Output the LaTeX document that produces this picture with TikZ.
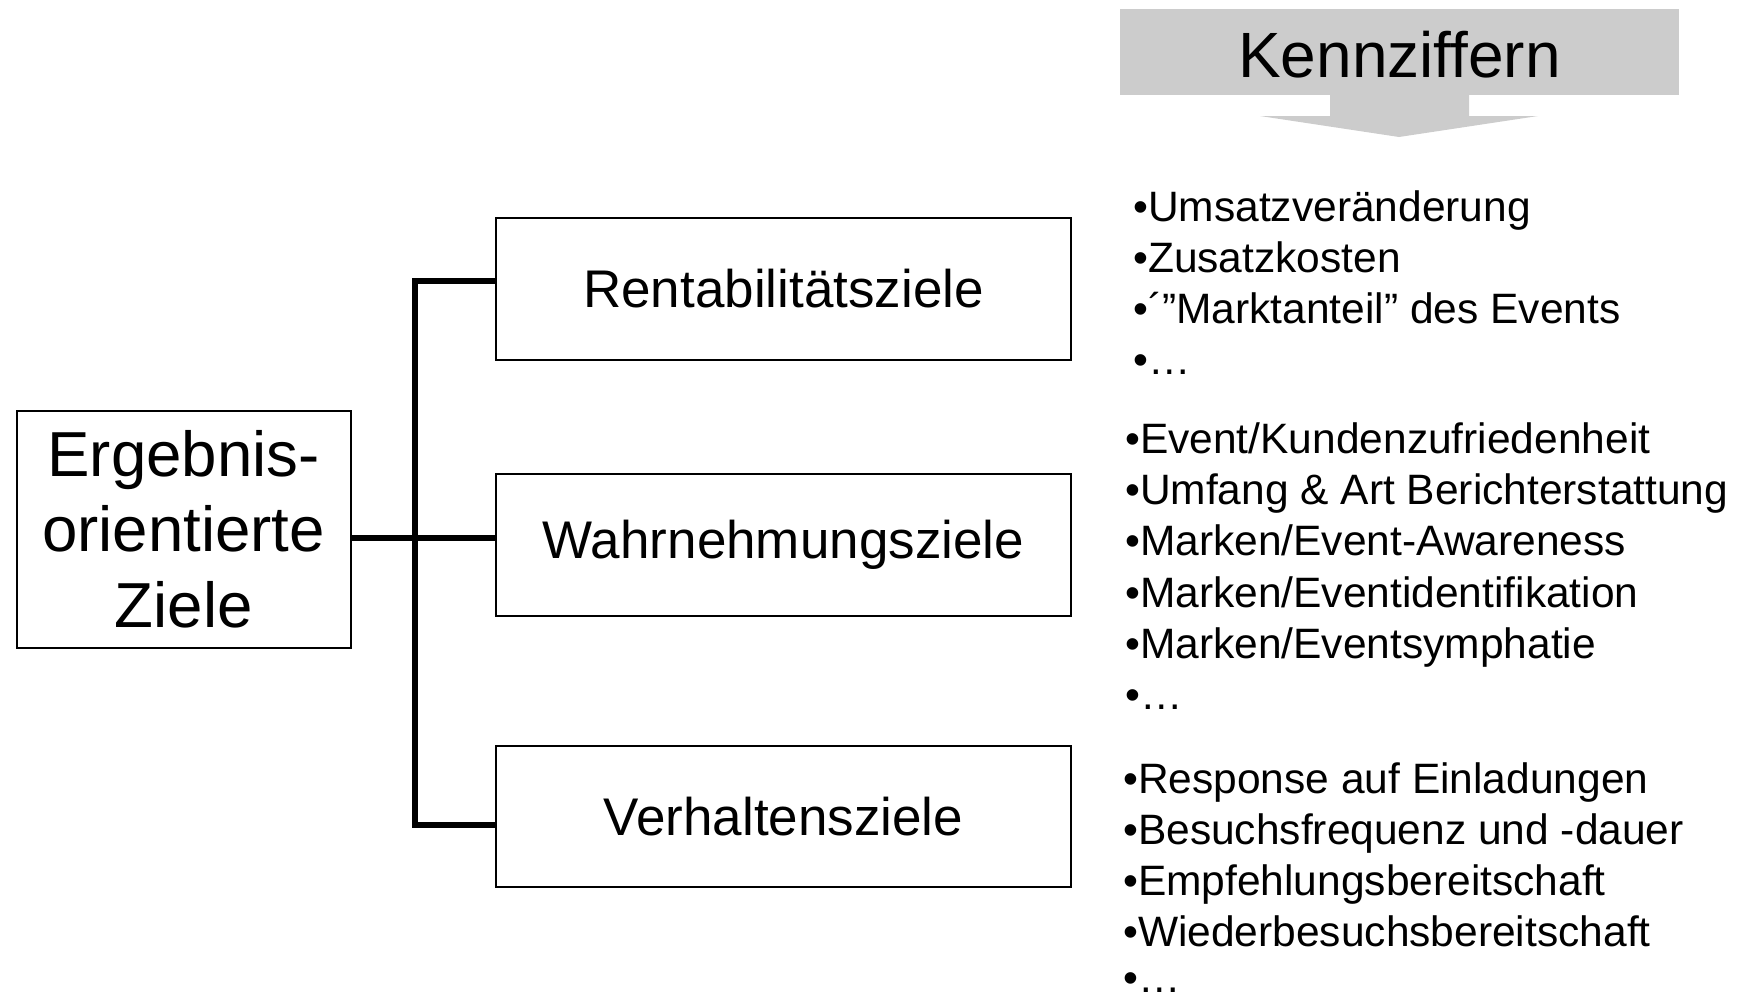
\documentclass[tikz,border=0pt]{standalone}
\usepackage{fontspec}
\setmainfont{Liberation Sans}
\definecolor{kgray}{RGB}{204,204,204}
\begin{document}
\begin{tikzpicture}[x=1pt,y=-1pt,
  goal/.style={draw, line width=2pt, minimum width=575pt, minimum height=141.6pt,
    inner sep=0pt, font=\fontsize{53}{60}\selectfont},
  conn/.style={line width=6pt, line join=miter},
  item/.style={anchor=base west, inner sep=0pt, font=\fontsize{42.5}{51}\selectfont}]
\useasboundingbox (0,0) rectangle (1745,999);

% header box with downward arrow
\node[fill=kgray, minimum width=559pt, minimum height=86pt, inner sep=0pt] (kz) at (1399.5,52) {};
\node[inner sep=0pt, font=\fontsize{64}{70}\selectfont] (kzt) at (1399.5,55) {Kennziffern};
\fill[kgray] (1330,94) -- (1469,94) -- (1469,116) -- (1538,116) -- (1399,137)
  -- (1260,116) -- (1330,116) -- cycle;

% root and goal boxes
\node[draw, line width=2pt, minimum width=334pt, minimum height=237pt, inner sep=0pt,
  align=center, font=\fontsize{63.6}{75.7}\selectfont] (L) at (183.6,529)
  {Ergebnis-\\orientierte\\Ziele};
\node[goal] (R) at (783.5,288.8) {Rentabilitätsziele};
\node[goal] (W) at (783.5,544.8) {Wahrnehmungsziele};
\node[goal] (V) at (783.5,816.3) {Verhaltensziele};

% bracket connectors
\draw[conn] ([yshift=8.3pt]R.west) -| ([xshift=-80pt,yshift=-8.4pt]V.west) -- ([yshift=-8.4pt]V.west);
\draw[conn] ([yshift=-8.5pt]L.east) -- ([yshift=7.3pt]W.west);

% key figure lists
\foreach \t [count=\i] in {•Umsatzveränderung, •Zusatzkosten, •´”Marktanteil” des Events, •…}
  \node[item] (ka\i) at (1133,{221+(\i-1)*51.2}) {\t};
\foreach \t [count=\i] in {•Event/Kundenzufriedenheit, •Umfang \& Art Berichterstattung,
    •Marken/Event-Awareness, •Marken/Eventidentifikation, •Marken/Eventsymphatie, •…}
  \node[item] (kb\i) at (1125,{453.5+(\i-1)*51.2}) {\t};
\foreach \t [count=\i] in {•Response auf Einladungen, •Besuchsfrequenz und -dauer,
    •Empfehlungsbereitschaft, •Wiederbesuchsbereitschaft}
  \node[item] (kc\i) at (1123,{793+(\i-1)*51.2}) {\t};
\node[item] (kc5) at (1123,992) {•…};
\end{tikzpicture}
\end{document}
